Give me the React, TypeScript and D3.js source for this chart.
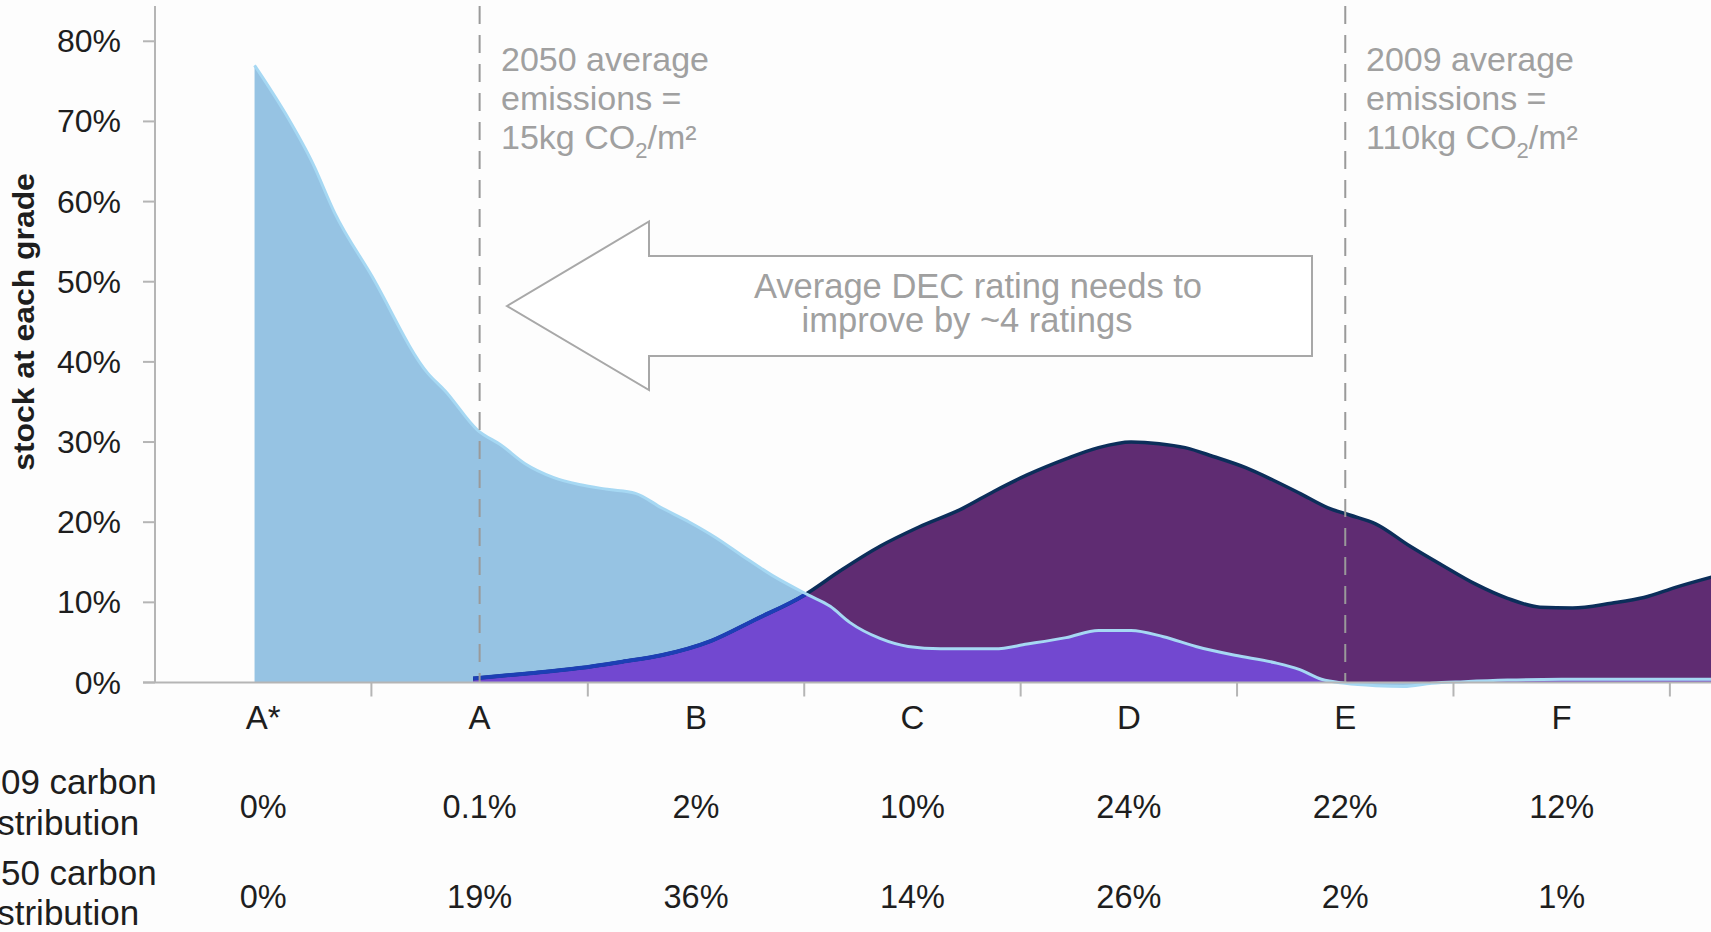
import React from 'react';
import * as d3 from 'd3';

// ---- data ----
const grades = ['A*', 'A', 'B', 'C', 'D', 'E', 'F'];
const carbon2009 = ['0%', '0.1%', '2%', '10%', '24%', '22%', '12%'];
const carbon2050 = ['0%', '19%', '36%', '14%', '26%', '2%', '1%'];
const yTickValues = [0, 10, 20, 30, 40, 50, 60, 70, 80];
const gradeBoundaries = [0.5, 1.5, 2.5, 3.5, 4.5, 5.5, 6.5];

// 2050 stock distribution (light blue) – position in grade units, % of stock
const stock2050Pos = [-0.04, 0.1, 0.23, 0.33, 0.5, 0.76, 0.84, 0.99, 1.1, 1.21, 1.34, 1.46, 1.59, 1.72, 1.84, 1.97, 2.09, 2.22, 2.35, 2.52, 2.62, 2.71, 2.85, 2.98, 3.13, 3.38, 3.53, 3.71, 3.86, 4.01, 4.16, 4.31, 4.49, 4.67, 4.79, 4.89, 5.0, 5.14, 5.27, 5.4, 5.55, 5.75, 6.0, 6.35, 6.7];
const stock2050Val = [77.0, 71.1, 64.7, 58.6, 50.8, 38.6, 36.4, 31.5, 29.6, 27.3, 25.6, 24.7, 24.1, 23.6, 21.8, 20.0, 18.1, 15.7, 13.4, 10.9, 9.5, 7.5, 5.5, 4.5, 4.2, 4.2, 4.8, 5.6, 6.5, 6.5, 5.7, 4.5, 3.4, 2.5, 1.6, 0.4, -0.1, -0.4, -0.5, -0.1, 0.1, 0.3, 0.4, 0.4, 0.4];

// 2009 stock distribution (dark purple)
const stock2009Pos = [0.97, 1.21, 1.46, 1.66, 1.84, 2.07, 2.27, 2.5, 2.67, 2.85, 3.03, 3.23, 3.38, 3.53, 3.71, 3.86, 4.01, 4.14, 4.26, 4.39, 4.54, 4.67, 4.79, 4.92, 5.02, 5.14, 5.3, 5.45, 5.6, 5.75, 5.9, 6.05, 6.23, 6.38, 6.53, 6.7];
const stock2009Val = [0.5, 1.1, 1.8, 2.6, 3.4, 5.2, 7.8, 10.9, 14.0, 17.0, 19.4, 21.7, 23.9, 25.9, 27.9, 29.3, 30.0, 29.8, 29.3, 28.2, 26.8, 25.2, 23.6, 21.8, 20.9, 19.8, 17.0, 14.6, 12.3, 10.5, 9.4, 9.3, 9.9, 10.6, 11.9, 13.2];

const dashedAt = [1, 5];

const W = 1711;
const H = 932;
const FONT = "'Liberation Sans', Arial, Helvetica, sans-serif";

export default function App() {
  const x = d3.scaleLinear().domain([-0.5, 6.69]).range([155, 1711]);
  const y = d3.scaleLinear().domain([0, 84.4]).range([682.5, 6]);

  const blue: [number, number][] = stock2050Pos.map((p, i) => [p, stock2050Val[i]]);
  const purple: [number, number][] = stock2009Pos.map((p, i) => [p, stock2009Val[i]]);

  const area = d3
    .area<[number, number]>()
    .x((d) => x(d[0]))
    .y0(y(0))
    .y1((d) => y(d[1]))
    .curve(d3.curveMonotoneX);
  const line = d3
    .line<[number, number]>()
    .x((d) => x(d[0]))
    .y((d) => y(d[1]))
    .curve(d3.curveMonotoneX);

  const blueArea = area(blue) || '';
  const purpleArea = area(purple) || '';
  const purpleLine = line(purple) || '';
  const blueLine = line(blue) || '';

  const txt = '#1e1e1e';
  const grey = '#a0a0a0';

  return (
    <svg
      width={W}
      height={H}
      viewBox={`0 0 ${W} ${H}`}
      style={{ position: 'absolute', left: 0, top: 0, background: '#ffffff' }}
      fontFamily={FONT}
    >
      <defs>
        <clipPath id="clipBlue">
          <path d={blueArea} />
        </clipPath>
      </defs>
      <rect x={0} y={0} width={W} height={H} fill="#fdfdfd" />

      {/* areas */}
      <path d={blueArea} fill="#96c3e3" />
      <path d={purpleArea} fill="#5f2c72" />
      <path d={purpleArea} fill="#7248d0" clipPath="url(#clipBlue)" />

      {/* lines */}
      <path d={purpleLine} fill="none" stroke="#0c2e5a" strokeWidth={3.5} />
      <path d={purpleLine} fill="none" stroke="#1d3fb5" strokeWidth={4} clipPath="url(#clipBlue)" />
      <path d={blueLine} fill="none" stroke="#a6d8f3" strokeWidth={3} />

      {/* dashed reference lines */}
      {dashedAt.map((p) => (
        <line
          key={p}
          x1={x(p)}
          x2={x(p)}
          y1={y(84.4)}
          y2={y(0)}
          stroke="#9a9a9a"
          strokeWidth={2}
          strokeDasharray="18 11"
        />
      ))}

      {/* axes */}
      <line x1={x(-0.5)} x2={x(-0.5)} y1={y(84.4)} y2={y(0)} stroke="#b5b5b5" strokeWidth={2} />
      <line x1={x(-0.5) - 12} x2={W} y1={y(0)} y2={y(0)} stroke="#b5b5b5" strokeWidth={2} />
      {yTickValues.map((v) => (
        <g key={v}>
          <line x1={x(-0.5) - 12} x2={x(-0.5)} y1={y(v)} y2={y(v)} stroke="#b5b5b5" strokeWidth={2} />
          <text x={121} y={y(v) + 11} textAnchor="end" fontSize={32} fill={txt}>
            {v}%
          </text>
        </g>
      ))}
      {gradeBoundaries.map((b) => (
        <line key={b} x1={x(b)} x2={x(b)} y1={y(0)} y2={y(0) + 14} stroke="#b5b5b5" strokeWidth={2} />
      ))}
      {grades.map((g, i) => (
        <text key={g} x={x(i)} y={729} textAnchor="middle" fontSize={33} fill={txt}>
          {g}
        </text>
      ))}

      {/* y axis title */}
      <text
        transform={`translate(34,322) rotate(-90) scale(1.1,1)`}
        textAnchor="middle"
        fontSize={29}
        fontWeight="bold"
        fill={txt}
      >
        stock at each grade
      </text>

      {/* table rows (labels run off the left edge, as in the source) */}
      <text x={-38} y={794} fontSize={35} fill={txt}>2009 carbon</text>
      <text x={-30} y={835} fontSize={35} fill={txt}>distribution</text>
      <text x={-38} y={885} fontSize={35} fill={txt}>2050 carbon</text>
      <text x={-30} y={925} fontSize={35} fill={txt}>distribution</text>
      {carbon2009.map((c, i) => (
        <text key={'a' + i} x={x(i)} y={818} textAnchor="middle" fontSize={32.5} fill={txt}>
          {c}
        </text>
      ))}
      {carbon2050.map((c, i) => (
        <text key={'b' + i} x={x(i)} y={908} textAnchor="middle" fontSize={32.5} fill={txt}>
          {c}
        </text>
      ))}

      {/* annotations */}
      {[
        { x0: 501, year: '2050', val: '15kg' },
        { x0: 1366, year: '2009', val: '110kg' },
      ].map((a) => (
        <g key={a.year} fill={grey} fontSize={34}>
          <text x={a.x0} y={71}>{a.year} average</text>
          <text x={a.x0} y={110}>emissions =</text>
          <text x={a.x0} y={149}>
            {a.val} CO
            <tspan fontSize={22} dy={9}>2</tspan>
            <tspan dy={-9}>/m²</tspan>
          </text>
        </g>
      ))}

      {/* arrow */}
      <polygon
        points="507,306 649,221.5 649,256 1312,256 1312,356 649,356 649,390"
        fill="#ffffff"
        stroke="#a8a8a8"
        strokeWidth={2}
      />
      <text x={978} y={298} textAnchor="middle" fontSize={34.5} fill={grey}>
        Average DEC rating needs to
      </text>
      <text x={967} y={332} textAnchor="middle" fontSize={34.5} fill={grey}>
        improve by ~4 ratings
      </text>
    </svg>
  );
}
